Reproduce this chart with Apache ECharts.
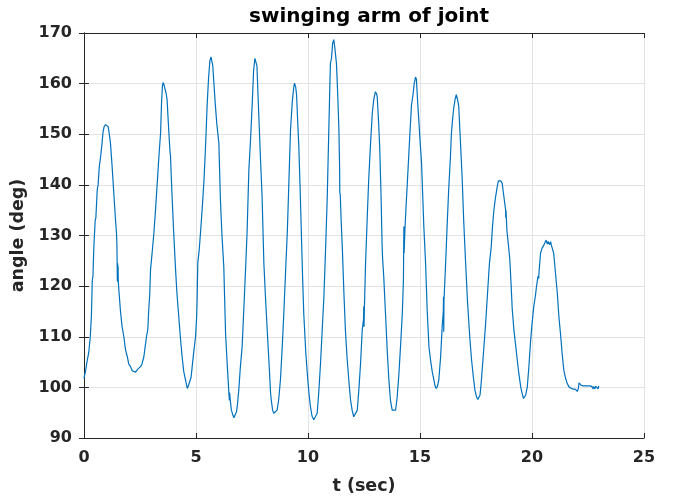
<!DOCTYPE html>
<html>
<head>
<meta charset="utf-8">
<script src="https://cdn.jsdelivr.net/npm/echarts@6/dist/echarts.min.js"></script>
<style>html,body{margin:0;padding:0;background:#fff;}#c{width:684px;height:502px;}</style>
</head>
<body>
<div id="c"></div>
<script>
const titleText = 'swinging arm of joint';
const xName = 't (sec)';
const yName = 'angle (deg)';
const xTicks = [0, 5, 10, 15, 20, 25];
const yTicks = [90, 100, 110, 120, 130, 140, 150, 160, 170];

const tSec = [
0.00,0.08,0.15,0.21,0.28,0.33,0.37,0.40,0.44,0.50,0.53,0.59,0.63,0.68,0.74,0.80,0.85,0.90,0.96,1.02,1.08,1.13,1.18,1.25,1.33,1.40,1.45,1.47,1.49,1.50,1.51,1.52,1.53,1.56,1.63,1.70,1.78,1.85,1.93,2.00,2.08,2.15,2.20,2.30,2.38,2.45,2.52,2.58,2.67,2.73,2.79,2.85,2.89,2.93,2.97,3.05,3.12,3.20,3.27,3.35,3.42,3.46,3.50,3.53,3.57,3.62,3.67,3.71,3.78,3.84,3.86,3.92,4.00,4.08,4.15,4.23,4.30,4.38,4.45,4.53,4.58,4.61,4.66,4.72,4.78,4.83,4.90,4.98,5.03,5.05,5.08,5.14,5.20,5.28,5.35,5.40,5.45,5.50,5.56,5.62,5.67,5.71,5.75,5.80,5.86,5.93,6.02,6.09,6.16,6.24,6.32,6.40,6.46,6.49,6.50,6.53,6.58,6.62,6.69,6.75,6.81,6.86,6.91,6.98,7.06,7.13,7.20,7.28,7.36,7.43,7.51,7.57,7.63,7.68,7.72,7.80,7.88,7.95,8.03,8.10,8.18,8.27,8.33,8.36,8.42,8.47,8.55,8.62,8.69,8.77,8.85,8.92,9.00,9.08,9.15,9.22,9.30,9.37,9.40,9.45,9.49,9.54,9.59,9.65,9.70,9.75,9.81,9.90,9.99,10.05,10.11,10.18,10.26,10.34,10.41,10.48,10.56,10.63,10.71,10.79,10.86,10.93,11.00,11.05,11.10,11.15,11.20,11.27,11.33,11.38,11.41,11.42,11.44,11.48,11.53,11.60,11.67,11.75,11.82,11.90,11.97,12.04,12.12,12.20,12.27,12.35,12.42,12.48,12.49,12.50,12.52,12.57,12.64,12.71,12.79,12.87,12.94,13.01,13.06,13.09,13.15,13.20,13.26,13.31,13.33,13.38,13.46,13.54,13.61,13.68,13.76,13.84,13.91,13.98,14.06,14.13,14.21,14.26,14.27,14.28,14.29,14.33,14.38,14.43,14.50,14.56,14.62,14.68,14.74,14.80,14.84,14.90,14.95,15.02,15.07,15.12,15.17,15.25,15.32,15.40,15.47,15.55,15.62,15.67,15.72,15.78,15.84,15.92,15.99,16.04,16.05,16.06,16.07,16.14,16.21,16.28,16.36,16.40,16.44,16.50,16.57,16.62,16.68,16.73,16.80,16.88,16.95,17.03,17.12,17.22,17.30,17.38,17.45,17.52,17.58,17.63,17.68,17.73,17.82,17.92,18.00,18.07,18.10,18.18,18.24,18.30,18.37,18.45,18.50,18.55,18.60,18.67,18.72,18.78,18.82,18.83,18.84,18.88,18.95,19.01,19.07,19.12,19.20,19.26,19.34,19.41,19.50,19.56,19.62,19.66,19.72,19.79,19.86,19.93,20.00,20.08,20.15,20.20,20.27,20.30,20.31,20.38,20.45,20.53,20.58,20.63,20.68,20.72,20.75,20.79,20.83,20.87,20.90,20.97,21.05,21.13,21.20,21.27,21.35,21.42,21.50,21.57,21.65,21.72,21.80,21.88,21.94,21.98,22.02,22.07,22.10,22.13,22.20,22.30,22.40,22.50,22.60,22.69,22.73,22.76,22.80,22.85,22.91,22.95,22.98
];
const angleDeg = [
101.8,103.5,105.5,106.8,110,114,121.2,122,127.8,133,133.5,139,140,143.5,145.5,148,150.5,151.5,151.9,151.8,151.5,150,148.3,144,138.4,133.5,130.5,128,121,124.5,120.8,124,121,119,115,112,110,107.5,106.1,104.6,104.1,103.3,103.1,103.0,103.5,103.7,104.1,104.5,106,108,110,111.5,115.3,118,123.2,127,130.5,135.5,140.4,146,150.3,156,159.5,160.2,159.8,159.6,158,156.8,151,146.5,145.9,139,131,123.9,118.5,114,110,106.1,103.2,101.5,100.5,99.8,100.3,100.3,102,104.1,107,110,114,117.3,124.6,127,130.5,135.5,140.4,145,150.3,156,161,164.5,165.3,165.2,163.5,160,156,152,148.3,137,130,123.9,110.7,104,99.5,97.4,99,97.5,95.5,94.9,94.0,94.3,95.2,97,99.5,104,108,115,122,130.5,143,148.5,156,162.5,165,164.8,163.5,154.2,145,137.7,124.5,118,111.3,104,98.8,97.5,95.5,94.9,94.8,95.5,97.5,101.5,108,114.6,123,131.1,141,150.9,156.5,159.5,160.1,159.3,157.8,152.5,147.6,139,131.1,123,114.6,107,101.5,98.5,96.2,94.3,93.6,93.8,94.9,99,104.8,111,117.9,128,137.7,151,164,165,168,168.7,167,164,157.5,150.9,143.5,138.5,138,133,127.8,119,111.3,105.5,101.5,97.5,95.5,94.2,93.9,95.5,99.5,105,111.3,113.5,116,112,116,124.5,133,141,148,154.2,157,158.4,158,157.4,152.5,147.6,138,127.8,125.5,122,114.6,107,101.5,97.5,95.5,95.2,95.5,98,102.8,108,114.6,121,126.2,131.8,126.5,131.5,136,140,146,151,155.8,157.5,160,161.3,160.8,156,152.5,147.5,144.3,138,131.8,124.5,115.3,108,105.4,103,101.5,100.3,99.8,100.2,101.5,106,112,115,117.9,111,117,124,131.8,139,145.6,150,152.2,155,157,157.8,156.8,155.5,149,141.6,133,125.2,117,110,105.5,102.1,99.5,98.2,97.6,97.5,98.5,100.8,106,112,117.5,122.5,124.5,127.8,132,135.1,137.5,139.7,140.8,140.7,140.8,140.3,138.5,136.5,135.1,133.5,135,131,128,125.2,120,115.3,111,108.7,105.5,102.8,100,98.8,97.8,97.5,98.5,100.1,104,108.7,112.5,116,118,119.9,122,121.5,122.5,126.5,127.5,128.1,128.6,129.1,128.3,128.8,128.5,128.2,128.8,128,127.8,126.5,122.5,118.6,114,110.7,106.5,103.4,101.8,100.8,100.1,99.8,99.7,99.8,99.6,99.3,99.2,99.8,100.9,100.8,100.4,100.3,100.3,100.3,100.3,100.1,99.7,100.2,99.7,100.2,100.1,99.7,100.3
];

const seriesData = tSec.map((t, i) => [t, angleDeg[i]]);
const FONT = '"DejaVu Sans", sans-serif';
const TXT = '#262626';

const chart = echarts.init(document.getElementById('c'), null, {renderer: 'canvas'});
const baseX = {
  type: 'value', min: xTicks[0], max: xTicks[xTicks.length - 1], interval: xTicks[1] - xTicks[0],
  axisLine: {show: true, lineStyle: {color: TXT, width: 1}},
  axisTick: {show: true, inside: true, length: 5, lineStyle: {color: TXT}}
};
const baseY = {
  type: 'value', min: yTicks[0], max: yTicks[yTicks.length - 1], interval: yTicks[1] - yTicks[0],
  axisLine: {show: true, lineStyle: {color: TXT, width: 1}},
  axisTick: {show: true, inside: true, length: 5, lineStyle: {color: TXT}}
};
chart.setOption({
  animation: false,
  backgroundColor: '#fff',
  title: {
    text: titleText, left: 364, top: 2, textAlign: 'center',
    textStyle: {fontFamily: FONT, fontWeight: 'bold', fontSize: 20, color: '#000'}
  },
  grid: {left: 84, right: 40, top: 33, bottom: 64, containLabel: false},
  xAxis: [
    Object.assign({}, baseX, {
      position: 'bottom',
      name: xName, nameLocation: 'middle', nameGap: 39,
      nameTextStyle: {fontFamily: FONT, fontWeight: 'bold', fontSize: 17.5, color: TXT},
      axisLabel: {show: true, margin: 12, fontFamily: FONT, fontWeight: 'bold', fontSize: 16, color: TXT},
      splitLine: {show: true, lineStyle: {color: '#e3e3e3', width: 1}}
    }),
    Object.assign({}, baseX, {position: 'top', axisLabel: {show: false}, splitLine: {show: false}})
  ],
  yAxis: [
    Object.assign({}, baseY, {
      position: 'left',
      name: yName, nameLocation: 'middle', nameGap: 40,
      nameTextStyle: {fontFamily: FONT, fontWeight: 'bold', fontSize: 17.5, color: TXT},
      axisLabel: {show: true, margin: 12, fontFamily: FONT, fontWeight: 'bold', fontSize: 16, color: TXT},
      splitLine: {show: true, lineStyle: {color: '#e3e3e3', width: 1}}
    }),
    Object.assign({}, baseY, {position: 'right', axisLabel: {show: false}, splitLine: {show: false}})
  ],
  series: [{
    type: 'line', data: seriesData, xAxisIndex: 0, yAxisIndex: 0,
    showSymbol: false, symbol: 'none', smooth: false,
    lineStyle: {color: '#0072BD', width: 1.2}
  }]
});
</script>
</body>
</html>
